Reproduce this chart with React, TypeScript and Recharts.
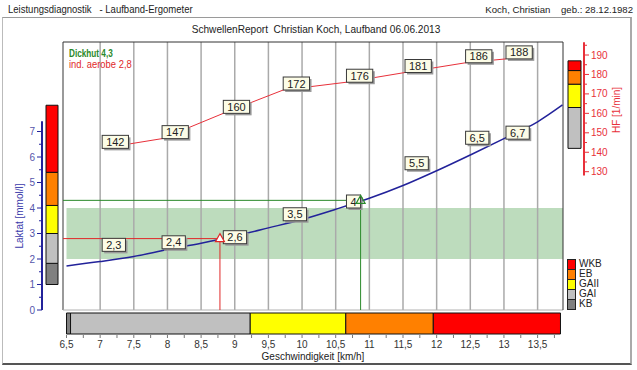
import React from 'react';
import {
  ComposedChart,
  Line,
  ReferenceArea,
  ReferenceLine,
  Scatter,
  XAxis,
  YAxis,
} from 'recharts';

// stage measurements (speed in km/h, lactate in mmol/l, heart rate in 1/min)
const stageSpeed = [7.03, 7.92, 8.83, 9.72, 10.66, 11.53, 12.43, 13.03];
const stageLactate = [2.3, 2.4, 2.6, 3.5, 4.0, 5.5, 6.5, 6.7];
const stageHeartRate = [142, 147, 160, 172, 176, 181, 186, 188];

// fitted lactate curve
const curveSpeed = [6.5, 7, 7.5, 8, 8.5, 9, 9.5, 10, 10.5, 11, 11.5, 12, 12.5, 13, 13.5, 13.87];
const curveLactate = [1.73, 1.9, 2.1, 2.37, 2.62, 2.9, 3.22, 3.55, 3.95, 4.38, 4.88, 5.46, 6.08, 6.72, 7.38, 8.04];

// thresholds
const aerobeSpeed = 8.78;
const aerobeLactate = 2.8;
const dickhutSpeed = 10.87;
const dickhutLactate = 4.3;
const targetBand = [2, 4];

// training zones
const zoneNames = ['KB', 'GAI', 'GAII', 'EB', 'WKB'];
const zoneColors = ['#808080', '#c0c0c0', '#ffff00', '#ff8000', '#ff0000'];
const lactateZoneBounds = [1.0, 1.83, 3.0, 4.1, 5.4, 8.03];
const hfZoneBounds = [142, 142, 163, 175, 182, 187];
const speedZoneBounds = [6.5, 6.56, 9.23, 10.65, 11.95, 13.84];

// ticks
const speedTicks = [6.5, 6.75, 7, 7.25, 7.5, 7.75, 8, 8.25, 8.5, 8.75, 9, 9.25, 9.5, 9.75, 10, 10.25, 10.5, 10.75, 11, 11.25, 11.5, 11.75, 12, 12.25, 12.5, 12.75, 13, 13.25, 13.5, 13.75];
const gridSpeeds = [7, 7.5, 8, 8.5, 9, 9.5, 10, 10.5, 11, 11.5, 12, 12.5, 13, 13.5];
const lactateTicks = [0, 0.5, 1, 1.5, 2, 2.5, 3, 3.5, 4, 4.5, 5, 5.5, 6, 6.5, 7];
const hfTicks = [130, 135, 140, 145, 150, 155, 160, 165, 170, 175, 180, 185, 190, 195];

// layout
const W = 637;
const H = 370;
const PLOT_LEFT = 63;
const PLOT_RIGHT = 563;
const PLOT_TOP = 42;
const PLOT_BOTTOM = 310;
const PX_PER_KMH = 67.3;
const PX_AT_65 = 66.5;
const PX_PER_MMOL = 25.5;
const PX_PER_BPM = 1.945;
const PX_AT_HF190 = 55;

const speedAtPx = (px: number) => 6.5 + (px - PX_AT_65) / PX_PER_KMH;
const lacAtPx = (py: number) => (PLOT_BOTTOM - py) / PX_PER_MMOL;
const X_MIN = speedAtPx(PLOT_LEFT);
const X_MAX = speedAtPx(PLOT_RIGHT);
const LAC_MAX = lacAtPx(PLOT_TOP);
const HF_MAX = 190 + (PX_AT_HF190 - PLOT_TOP) / PX_PER_BPM;
const HF_MIN = 190 - (PLOT_BOTTOM - PX_AT_HF190) / PX_PER_BPM;

const FONT = '"Liberation Sans", Arial, sans-serif';
const LAC_COLOR = '#22229a';
const HF_COLOR = '#e8303a';
const GREEN = '#2a8a2a';
const RED = '#e02828';

const fmt = (v: number) => String(v).replace('.', ',');

const stageRows = stageSpeed.map((speed, i) => ({
  speed,
  lac: stageLactate[i],
  hf: stageHeartRate[i],
}));
const curveRows = curveSpeed.map((speed, i) => ({ speed, lac: curveLactate[i] }));

function textWidth(s: string): number {
  let w = 0;
  for (const ch of s) w += ch === ',' ? 3.1 : 6.1;
  return w;
}

function ValueBox({ cx, cy, text }: { cx: number; cy: number; text: string }) {
  const w = textWidth(text) + 8;
  const h = 13;
  return (
    <g>
      <rect x={cx + 2} y={cy - h + 2} width={w} height={h} fill="#9a9a9a" />
      <rect x={cx} y={cy - h} width={w} height={h} fill="#fcfce6" stroke="#3a3a3a" strokeWidth={1} />
      <text x={cx + w / 2} y={cy - 2.5} textAnchor="middle" fontSize={11} fill="#222">
        {text}
      </text>
    </g>
  );
}

function LacBoxShape(props: any) {
  const { cx, cy, payload } = props;
  return <ValueBox cx={cx} cy={cy} text={fmt(payload.lac)} />;
}

function HfDot(props: any) {
  const { cx, cy, payload, index } = props;
  return <ValueBox key={`hf-${index}`} cx={cx} cy={cy} text={fmt(payload.hf)} />;
}

function Triangle({ cx, cy, color, fill }: { cx: number; cy: number; color: string; fill: string }) {
  return (
    <path
      d={`M${cx},${cy - 5} L${cx + 4.5},${cy + 3} L${cx - 4.5},${cy + 3} Z`}
      fill={fill}
      stroke={color}
      strokeWidth={1.2}
    />
  );
}

function LacTick(props: any) {
  const { x, y, payload } = props;
  const v = payload.value as number;
  const axisX = x + 8;
  const major = Number.isInteger(v);
  return (
    <g>
      <line x1={axisX} x2={axisX - (major ? 5 : 3)} y1={y} y2={y} stroke={LAC_COLOR} />
      {major && (
        <text x={axisX - 7} y={y + 3.5} textAnchor="end" fontSize={10} fill="#5555aa">
          {v}
        </text>
      )}
    </g>
  );
}

function HfTick(props: any) {
  const { x, y, payload } = props;
  const v = payload.value as number;
  const axisX = x - 8;
  const major = v % 10 === 0;
  return (
    <g>
      <line x1={axisX} x2={axisX + (major ? 5 : 3)} y1={y} y2={y} stroke={HF_COLOR} />
      {major && (
        <text x={axisX + 7} y={y + 3.5} textAnchor="start" fontSize={10} fill={HF_COLOR}>
          {v}
        </text>
      )}
    </g>
  );
}

const abs = (left: number, top: number, extra: React.CSSProperties = {}): React.CSSProperties => ({
  position: 'absolute',
  left,
  top,
  whiteSpace: 'pre',
  lineHeight: 1,
  ...extra,
});

export default function App() {
  const zoneIdx = zoneNames.map((_, i) => i);
  return (
    <div
      style={{
        position: 'absolute',
        left: 0,
        top: 0,
        width: W,
        height: H,
        background: '#fff',
        fontFamily: FONT,
        overflow: 'hidden',
      }}
    >
      <div style={abs(8, 4, { fontSize: 11, color: '#222', transform: 'scaleX(0.865)', transformOrigin: 'left' })}>
        Leistungsdiagnostik   - Laufband-Ergometer
      </div>
      <div style={abs(0, 5, { fontSize: 9.6, color: '#222', width: 633, textAlign: 'right' })}>
        Koch, Christian    geb.: 28.12.1982
      </div>
      <div
        style={{
          position: 'absolute',
          left: 2,
          top: 17,
          width: 627,
          height: 345,
          borderTop: '1px solid #9a9a9a',
          borderLeft: '1px solid #bbb',
          borderRight: '2px solid #aaa',
          borderBottom: '2px solid #555',
        }}
      />
      <div style={abs(0, 25, { fontSize: 10.1, color: '#222', width: 632, textAlign: 'center' })}>
        SchwellenReport  Christian Koch, Laufband 06.06.2013
      </div>

      <ComposedChart
        width={W}
        height={H}
        margin={{ top: PLOT_TOP, right: 0, bottom: 0, left: 0 }}
        style={{ position: 'absolute', left: 0, top: 0 }}
      >
        <XAxis xAxisId="aPadB" type="number" domain={[0, 1]} height={25} tick={false} axisLine={false} tickLine={false} />
        <XAxis
          xAxisId="spd"
          dataKey="speed"
          type="number"
          domain={[X_MIN, X_MAX]}
          allowDataOverflow
          ticks={speedTicks}
          interval={0}
          height={35}
          axisLine={false}
          tickSize={3}
          tickMargin={3}
          tickLine={{ stroke: '#777' }}
          tick={{ fontSize: 10, fill: '#333' }}
          tickFormatter={(v: number) => (Number.isInteger(v * 2) ? fmt(v) : '')}
        />
        <YAxis yAxisId="aPadL" type="number" domain={[0, 1]} width={21} tick={false} axisLine={false} tickLine={false} />
        <YAxis
          yAxisId="lac"
          type="number"
          domain={[0, LAC_MAX]}
          allowDataOverflow
          width={42}
          ticks={lactateTicks}
          interval={0}
          axisLine={false}
          tickLine={false}
          tickSize={6}
          tickMargin={2}
          tick={<LacTick />}
        />
        <YAxis
          yAxisId="aPadR"
          orientation="right"
          type="number"
          domain={[0, 1]}
          width={21}
          tick={false}
          axisLine={false}
          tickLine={false}
        />
        <YAxis
          yAxisId="hf"
          orientation="right"
          type="number"
          domain={[HF_MIN, HF_MAX]}
          allowDataOverflow
          width={53}
          ticks={hfTicks}
          interval={0}
          axisLine={false}
          tickLine={false}
          tickSize={6}
          tickMargin={2}
          tick={<HfTick />}
        />

        {/* target band */}
        <ReferenceArea
          xAxisId="spd"
          yAxisId="lac"
          x1={6.5}
          x2={X_MAX}
          y1={targetBand[0]}
          y2={targetBand[1]}
          fill="#bddcbd"
          fillOpacity={1}
          stroke="none"
          ifOverflow="visible"
        />

        {/* grid */}
        {gridSpeeds.map((s) => (
          <ReferenceLine key={`g-${s}`} xAxisId="spd" yAxisId="lac" x={s} stroke="#aaaaaa" strokeWidth={1.5} ifOverflow="visible" />
        ))}

        {/* frame */}
        <ReferenceLine xAxisId="spd" yAxisId="lac" x={X_MIN} stroke="#9a9a9a" strokeWidth={2} ifOverflow="visible" />
        <ReferenceLine xAxisId="spd" yAxisId="lac" y={0} stroke="#b0b0b0" strokeWidth={1} ifOverflow="visible" />
        <ReferenceLine xAxisId="spd" yAxisId="lac" y={LAC_MAX} stroke="#333" strokeWidth={1} ifOverflow="visible" />
        <ReferenceLine xAxisId="spd" yAxisId="lac" x={X_MAX} stroke="#333" strokeWidth={1} ifOverflow="visible" />

        {/* axis lines */}
        <ReferenceLine
          xAxisId="spd"
          yAxisId="lac"
          segment={[
            { x: speedAtPx(42), y: 0 },
            { x: speedAtPx(42), y: 7.4 },
          ]}
          stroke={LAC_COLOR}
          strokeWidth={2}
          ifOverflow="visible"
        />
        <ReferenceLine
          xAxisId="spd"
          yAxisId="hf"
          segment={[
            { x: speedAtPx(584), y: 128 },
            { x: speedAtPx(584), y: 196.5 },
          ]}
          stroke={HF_COLOR}
          strokeWidth={2}
          ifOverflow="visible"
        />

        {/* zone bars */}
        {zoneIdx.map((i) => (
          <ReferenceArea
            key={`zl-${i}`}
            xAxisId="spd"
            yAxisId="lac"
            x1={speedAtPx(46)}
            x2={speedAtPx(58)}
            y1={lactateZoneBounds[i]}
            y2={lactateZoneBounds[i + 1]}
            fill={zoneColors[i]}
            fillOpacity={1}
            stroke="#111"
            strokeWidth={1}
            ifOverflow="visible"
          />
        ))}
        {zoneIdx
          .filter((i) => hfZoneBounds[i + 1] > hfZoneBounds[i])
          .map((i) => (
            <ReferenceArea
              key={`zh-${i}`}
              xAxisId="spd"
              yAxisId="hf"
              x1={speedAtPx(568)}
              x2={speedAtPx(581)}
              y1={hfZoneBounds[i]}
              y2={hfZoneBounds[i + 1]}
              fill={zoneColors[i]}
              fillOpacity={1}
              stroke="#111"
              strokeWidth={1}
              ifOverflow="visible"
            />
          ))}
        {zoneIdx.map((i) => (
          <ReferenceArea
            key={`zs-${i}`}
            xAxisId="spd"
            yAxisId="lac"
            x1={speedZoneBounds[i]}
            x2={speedZoneBounds[i + 1]}
            y1={lacAtPx(334)}
            y2={lacAtPx(313)}
            fill={zoneColors[i]}
            fillOpacity={1}
            stroke="#111"
            strokeWidth={1}
            ifOverflow="visible"
          />
        ))}

        {/* threshold lines */}
        <ReferenceLine
          xAxisId="spd"
          yAxisId="lac"
          segment={[
            { x: X_MIN, y: aerobeLactate },
            { x: aerobeSpeed, y: aerobeLactate },
          ]}
          stroke={RED}
          ifOverflow="visible"
        />
        <ReferenceLine
          xAxisId="spd"
          yAxisId="lac"
          segment={[
            { x: aerobeSpeed, y: 0 },
            { x: aerobeSpeed, y: aerobeLactate },
          ]}
          stroke={RED}
          ifOverflow="visible"
        />
        <ReferenceLine
          xAxisId="spd"
          yAxisId="lac"
          segment={[
            { x: X_MIN, y: dickhutLactate },
            { x: dickhutSpeed, y: dickhutLactate },
          ]}
          stroke={GREEN}
          ifOverflow="visible"
        />
        <ReferenceLine
          xAxisId="spd"
          yAxisId="lac"
          segment={[
            { x: dickhutSpeed, y: 0 },
            { x: dickhutSpeed, y: dickhutLactate },
          ]}
          stroke={GREEN}
          ifOverflow="visible"
        />

        <Line
          xAxisId="spd"
          yAxisId="lac"
          data={curveRows}
          dataKey="lac"
          type="monotone"
          stroke={LAC_COLOR}
          strokeWidth={1.5}
          dot={false}
          activeDot={false}
          isAnimationActive={false}
        />
        <Line
          xAxisId="spd"
          yAxisId="hf"
          data={stageRows}
          dataKey="hf"
          type="linear"
          stroke={HF_COLOR}
          strokeWidth={1}
          dot={HfDot}
          activeDot={false}
          isAnimationActive={false}
        />
        <Scatter
          xAxisId="spd"
          yAxisId="lac"
          data={stageRows}
          dataKey="lac"
          shape={LacBoxShape}
          isAnimationActive={false}
        />
        <Scatter
          xAxisId="spd"
          yAxisId="lac"
          data={[{ speed: aerobeSpeed, lac: aerobeLactate }]}
          dataKey="lac"
          shape={(p: any) => <Triangle cx={p.cx} cy={p.cy} color={RED} fill="#fff" />}
          isAnimationActive={false}
        />
        <Scatter
          xAxisId="spd"
          yAxisId="lac"
          data={[{ speed: dickhutSpeed, lac: dickhutLactate }]}
          dataKey="lac"
          shape={(p: any) => <Triangle cx={p.cx} cy={p.cy} color={GREEN} fill="none" />}
          isAnimationActive={false}
        />
      </ComposedChart>

      {/* threshold captions */}
      <div
        style={abs(69, 49, {
          fontSize: 10,
          color: GREEN,
          fontWeight: 'bold',
          transform: 'scaleX(0.82)',
          transformOrigin: 'left',
        })}
      >
        Dickhut {fmt(dickhutLactate)}
      </div>
      <div style={abs(69, 60, { fontSize: 10, color: RED, transform: 'scaleX(0.94)', transformOrigin: 'left' })}>
        ind. aerobe {fmt(aerobeLactate)}
      </div>

      {/* axis titles */}
      <div
        style={abs(20, 216, {
          fontSize: 10,
          color: '#3a3aaa',
          transform: 'translate(-50%, -50%) rotate(-90deg)',
        })}
      >
        Laktat [mmol/l]
      </div>
      <div
        style={abs(617, 110, {
          fontSize: 10,
          color: HF_COLOR,
          transform: 'translate(-50%, -50%) rotate(-90deg)',
        })}
      >
        HF [1/min]
      </div>
      <div style={abs(213, 352, { fontSize: 10, color: '#222', width: 200, textAlign: 'center' })}>
        Geschwindigkeit [km/h]
      </div>

      {/* zone legend */}
      <div style={abs(567, 259)}>
        {[...zoneIdx].reverse().map((i) => (
          <div key={zoneNames[i]} style={{ display: 'flex', alignItems: 'center', height: 10 }}>
            <div
              style={{
                width: 7,
                height: 9,
                background: zoneColors[i],
                border: '1px solid #222',
                marginRight: 3,
              }}
            />
            <span style={{ fontSize: 10, color: '#222' }}>{zoneNames[i]}</span>
          </div>
        ))}
      </div>
    </div>
  );
}
